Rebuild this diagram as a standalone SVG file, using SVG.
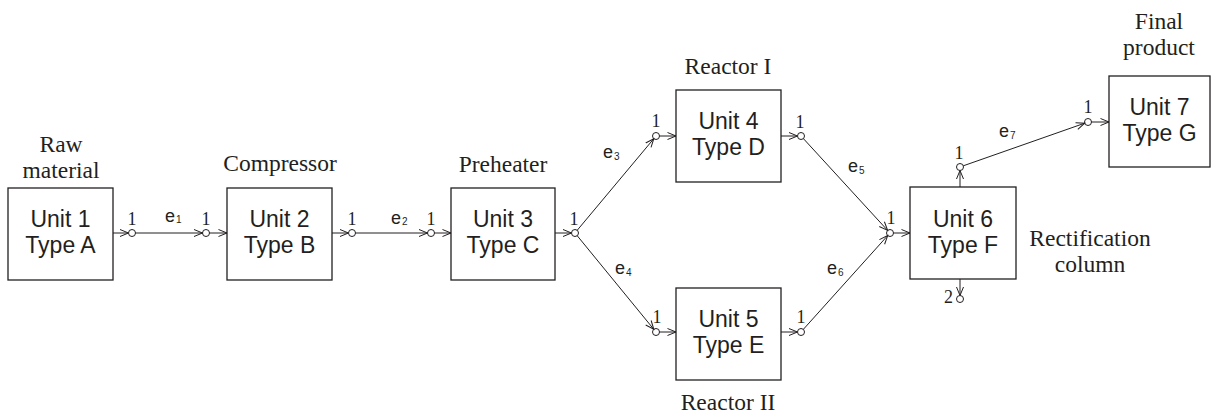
<svg xmlns="http://www.w3.org/2000/svg" width="1211" height="414" viewBox="0 0 1211 414">
<style>
.box{fill:#fff;stroke:#231f20;stroke-width:1.3}
.ut{font-family:"Liberation Sans",Arial,sans-serif;font-size:23px;fill:#231f20;text-anchor:middle}
.tt{font-family:"Liberation Serif","Times New Roman",serif;font-size:23.5px;fill:#231f20;text-anchor:middle}
.pl{font-family:"Liberation Serif","Times New Roman",serif;font-size:18px;fill:#231f20;text-anchor:middle}
.el{font-family:"Liberation Sans",Arial,sans-serif;font-size:18px;fill:#231f20}
.el tspan{font-size:10px}
.ln{stroke:#231f20;stroke-width:1;fill:none;marker-end:url(#arr)}
.pt{fill:#fff;stroke:#231f20;stroke-width:1}
</style>
<defs>
<marker id="arr" markerUnits="userSpaceOnUse" markerWidth="12" markerHeight="10" refX="9" refY="4" orient="auto" viewBox="0 0 12 10">
<path d="M0.5,0.5 L9,4 L0.5,7.5" fill="none" stroke="#231f20" stroke-width="1"/>
</marker>
</defs>

<g id="unit1">
<rect class="box" x="8" y="188" width="105" height="92"/>
<text class="ut" x="60.5" y="227">Unit 1<tspan x="60.5" dy="26">Type A</tspan></text>
<text class="tt" x="61" y="152">Raw<tspan x="61" dy="26">material</tspan></text>
<line class="ln" x1="113" y1="233" x2="128.5" y2="233"/>
<circle class="pt" cx="132" cy="233" r="3.5"/>
<text class="pl" x="132" y="225">1</text>
</g>

<g id="unit2">
<rect class="box" x="227" y="188" width="105" height="92"/>
<text class="ut" x="279.5" y="227">Unit 2<tspan x="279.5" dy="26">Type B</tspan></text>
<text class="tt" x="280" y="171">Compressor</text>
<circle class="pt" cx="206" cy="233" r="3.5"/>
<line class="ln" x1="209.5" y1="233" x2="227" y2="233"/>
<text class="pl" x="206" y="225">1</text>
<line class="ln" x1="332" y1="233" x2="348.5" y2="233"/>
<circle class="pt" cx="352" cy="233" r="3.5"/>
<text class="pl" x="352" y="225">1</text>
</g>

<g id="unit3">
<rect class="box" x="451" y="188" width="104" height="92"/>
<text class="ut" x="503" y="227">Unit 3<tspan x="503" dy="26">Type C</tspan></text>
<text class="tt" x="503" y="172">Preheater</text>
<circle class="pt" cx="431" cy="233" r="3.5"/>
<line class="ln" x1="434.5" y1="233" x2="451" y2="233"/>
<text class="pl" x="431" y="225">1</text>
<line class="ln" x1="555" y1="233" x2="571.5" y2="233"/>
<circle class="pt" cx="575" cy="233" r="3.5"/>
<text class="pl" x="574" y="225">1</text>
</g>

<g id="unit4">
<rect class="box" x="676" y="90" width="105" height="92"/>
<text class="ut" x="728.5" y="129">Unit 4<tspan x="728.5" dy="26">Type D</tspan></text>
<text class="tt" x="728" y="74">Reactor I</text>
<circle class="pt" cx="656" cy="136" r="3.5"/>
<line class="ln" x1="659.5" y1="136" x2="676" y2="136"/>
<text class="pl" x="656" y="127">1</text>
<line class="ln" x1="781" y1="136" x2="797.5" y2="136"/>
<circle class="pt" cx="801" cy="136" r="3.5"/>
<text class="pl" x="800" y="128">1</text>
</g>

<g id="unit5">
<rect class="box" x="676" y="288" width="105" height="92"/>
<text class="ut" x="728.5" y="327">Unit 5<tspan x="728.5" dy="26">Type E</tspan></text>
<text class="tt" x="728" y="410">Reactor II</text>
<circle class="pt" cx="656" cy="332" r="3.5"/>
<line class="ln" x1="659.5" y1="332" x2="676" y2="332"/>
<text class="pl" x="657" y="323">1</text>
<line class="ln" x1="781" y1="332" x2="797.5" y2="332"/>
<circle class="pt" cx="801" cy="332" r="3.5"/>
<text class="pl" x="801" y="323">1</text>
</g>

<g id="unit6">
<rect class="box" x="910" y="187" width="106" height="92"/>
<text class="ut" x="963" y="227">Unit 6<tspan x="963" dy="26">Type F</tspan></text>
<text class="tt" x="1090" y="246">Rectification<tspan x="1090" dy="26">column</tspan></text>
<circle class="pt" cx="890" cy="233" r="3.5"/>
<line class="ln" x1="893.5" y1="233" x2="910" y2="233"/>
<text class="pl" x="891" y="224">1</text>
<line class="ln" x1="960" y1="187" x2="960" y2="170.5"/>
<circle class="pt" cx="960" cy="167" r="3.5"/>
<text class="pl" x="959" y="159">1</text>
<line class="ln" x1="960" y1="279" x2="960" y2="295.5"/>
<circle class="pt" cx="960" cy="299" r="3.5"/>
<text class="pl" x="948.5" y="303">2</text>
</g>

<g id="unit7">
<rect class="box" x="1109" y="76" width="101" height="91"/>
<text class="ut" x="1159.5" y="115">Unit 7<tspan x="1159.5" dy="26">Type G</tspan></text>
<text class="tt" x="1159" y="29">Final<tspan x="1159" dy="26">product</tspan></text>
<circle class="pt" cx="1088" cy="122" r="3.5"/>
<line class="ln" x1="1091.5" y1="122" x2="1109" y2="122"/>
<text class="pl" x="1088" y="113">1</text>
</g>

<g id="connectors">
<line class="ln" x1="135.5" y1="233" x2="202.5" y2="233"/>
<line class="ln" x1="355.5" y1="233" x2="427.5" y2="233"/>
<line class="ln" x1="577.2" y1="230.3" x2="653.8" y2="138.7"/>
<line class="ln" x1="577.2" y1="235.7" x2="653.8" y2="329.3"/>
<line class="ln" x1="803.4" y1="138.6" x2="887.6" y2="230.4"/>
<line class="ln" x1="803.3" y1="329.4" x2="887.7" y2="235.6"/>
<line class="ln" x1="963.3" y1="165.8" x2="1084.7" y2="123.2"/>
<text class="el" x="165" y="222">e<tspan dx="1" dy="1">1</tspan></text>
<text class="el" x="391" y="224">e<tspan dx="1" dy="1">2</tspan></text>
<text class="el" x="603" y="158">e<tspan dx="1" dy="2">3</tspan></text>
<text class="el" x="615" y="274">e<tspan dx="1" dy="2">4</tspan></text>
<text class="el" x="848" y="172">e<tspan dx="1" dy="2">5</tspan></text>
<text class="el" x="827" y="274">e<tspan dx="1" dy="2">6</tspan></text>
<text class="el" x="999" y="137">e<tspan dx="1" dy="2">7</tspan></text>
</g>
</svg>
